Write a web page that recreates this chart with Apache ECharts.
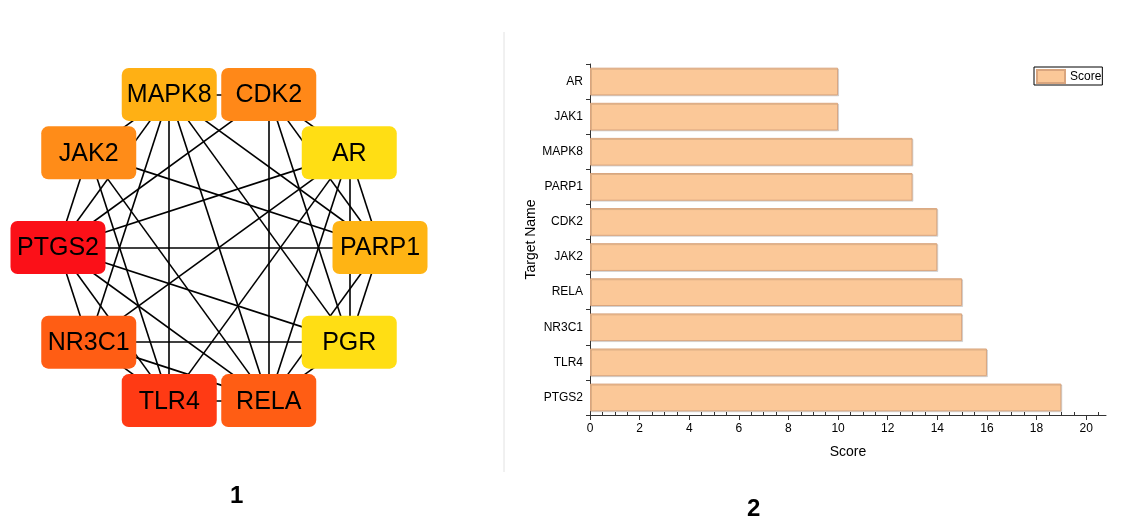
<!DOCTYPE html>
<html>
<head>
<meta charset="utf-8">
<script src="https://cdn.jsdelivr.net/npm/echarts@6/dist/echarts.min.js"></script>
<style>
  html, body { margin: 0; padding: 0; background: #fff; }
  #main { width: 1129px; height: 521px; }
</style>
</head>
<body>
<div id="main"></div>
<script>
// ---- Panel 1: target interaction network ----
// Nodes in ring order, clockwise from the 3 o'clock position
const ringNodes = ['PARP1', 'PGR', 'RELA', 'TLR4', 'NR3C1', 'PTGS2', 'JAK2', 'MAPK8', 'CDK2', 'AR'];
const nodeColors = ['#ffb414', '#ffde14', '#ff5d14', '#ff3a14', '#ff5d14', '#fb1018', '#ff8c18', '#ffb014', '#ff8818', '#ffde14'];
const interactions = [
  ['MAPK8', 'CDK2'], ['MAPK8', 'JAK2'], ['MAPK8', 'PTGS2'], ['MAPK8', 'NR3C1'],
  ['MAPK8', 'TLR4'], ['MAPK8', 'RELA'], ['MAPK8', 'PGR'], ['MAPK8', 'PARP1'],
  ['CDK2', 'PTGS2'], ['CDK2', 'RELA'], ['CDK2', 'PGR'], ['CDK2', 'PARP1'], ['CDK2', 'AR'],
  ['AR', 'PTGS2'], ['AR', 'NR3C1'], ['AR', 'TLR4'], ['AR', 'RELA'], ['AR', 'PGR'], ['AR', 'PARP1'],
  ['JAK2', 'PTGS2'], ['JAK2', 'TLR4'], ['JAK2', 'RELA'], ['JAK2', 'PARP1'],
  ['PTGS2', 'PARP1'], ['PTGS2', 'PGR'], ['PTGS2', 'NR3C1'], ['PTGS2', 'TLR4'], ['PTGS2', 'RELA'],
  ['NR3C1', 'PGR'], ['NR3C1', 'RELA'], ['NR3C1', 'TLR4'],
  ['TLR4', 'RELA'], ['PARP1', 'PGR'], ['PARP1', 'RELA'], ['PGR', 'RELA']
];

// ---- Panel 2: score bar chart ----
const targetNames = ['AR', 'JAK1', 'MAPK8', 'PARP1', 'CDK2', 'JAK2', 'RELA', 'NR3C1', 'TLR4', 'PTGS2'];
const scores = [10, 10, 13, 13, 14, 14, 15, 15, 16, 19];
const scoreTicks = [0, 2, 4, 6, 8, 10, 12, 14, 16, 18, 20];
const scoreMinorTicks = [];
for (let v = 0.5; v <= 20.5; v += 0.5) {
  if (v % 2 !== 0) scoreMinorTicks.push(v);
}

const FONT = '"Liberation Sans", Arial, Helvetica, sans-serif';
const chart = echarts.init(document.getElementById('main'), null, { renderer: 'canvas' });

const option = {
  backgroundColor: '#ffffff',
  animation: false,
  textStyle: { fontFamily: FONT },
  polar: { center: [219, 247.5], radius: 161 },
  angleAxis: { type: 'value', min: 0, max: 360, startAngle: 0, clockwise: true, show: false },
  radiusAxis: { type: 'value', min: 0, max: 1, show: false },
  grid: { left: 590, top: 64, width: 516, height: 351 },
  legend: {
    data: ['Score'],
    left: 1034, top: 67,
    padding: [2, 1, 1, 2],
    icon: 'rect',
    itemWidth: 28, itemHeight: 13,
    borderColor: '#000', borderWidth: 1, borderRadius: 0,
    textStyle: { fontSize: 12, color: '#000', fontFamily: FONT },
    selectedMode: false
  },
  xAxis: [
    {
      type: 'value', gridIndex: 0, min: 0, max: 20.8, interval: 2, position: 'bottom',
      name: 'Score', nameLocation: 'middle', nameGap: 30,
      nameTextStyle: { fontSize: 14, color: '#000', fontFamily: FONT },
      axisLine: { show: true, lineStyle: { color: '#333', width: 1 } },
      axisTick: { show: true, customValues: scoreTicks, length: 5, lineStyle: { color: '#333' } },
      axisLabel: { customValues: scoreTicks, fontSize: 12, color: '#000', margin: 8, fontFamily: FONT },
      splitLine: { show: false }
    },
    {
      type: 'value', gridIndex: 0, min: 0, max: 20.8, interval: 0.5, position: 'bottom',
      axisLine: { show: false },
      axisTick: { show: true, inside: true, customValues: scoreMinorTicks, length: 3, lineStyle: { color: '#333' } },
      axisLabel: { show: false },
      splitLine: { show: false }
    }
  ],
  yAxis: {
    type: 'category', gridIndex: 0, data: targetNames, inverse: true,
    name: 'Target Name', nameLocation: 'middle', nameGap: 49, nameRotate: 90,
    nameTextStyle: { fontSize: 14, color: '#000', fontFamily: FONT },
    axisLine: { show: true, lineStyle: { color: '#333', width: 1 } },
    axisTick: { show: true, length: 4, lineStyle: { color: '#333' } },
    axisLabel: { fontSize: 12, color: '#000', margin: 7, fontFamily: FONT },
    splitLine: { show: false }
  },
  series: [
    {
      type: 'graph',
      coordinateSystem: 'polar',
      polarIndex: 0,
      layout: 'none',
      silent: true,
      symbol: 'path://M7,0H88A7,7,0,0,1,95,7V46A7,7,0,0,1,88,53H7A7,7,0,0,1,0,46V7A7,7,0,0,1,7,0Z',
      symbolSize: [95, 53],
      data: ringNodes.map((n, i) => ({
        name: n,
        value: [1, i * 360 / ringNodes.length],
        itemStyle: { color: nodeColors[i] }
      })),
      links: interactions.map(([s, t]) => ({ source: s, target: t })),
      lineStyle: { color: '#000', width: 1.6, opacity: 1, curveness: 0 },
      label: { show: true, position: 'inside', color: '#000', fontSize: 25, fontFamily: FONT, offset: [0, 1] },
      emphasis: { disabled: true }
    },
    {
      name: 'Score',
      type: 'bar',
      xAxisIndex: 0, yAxisIndex: 0,
      data: scores,
      barCategoryGap: '21%',
      itemStyle: {
        color: '#fbc898',
        borderColor: '#d9a57e',
        borderWidth: 1,
        shadowColor: 'rgba(0,0,0,0.12)',
        shadowOffsetX: 1,
        shadowOffsetY: 1,
        shadowBlur: 0
      },
      emphasis: { disabled: true }
    }
  ],
  graphic: [
    {
      type: 'line',
      shape: { x1: 504, y1: 32, x2: 504, y2: 472 },
      style: { stroke: '#e2e2e2', lineWidth: 1 }
    },
    {
      type: 'text', left: 230, top: 484,
      style: { text: '1', font: 'bold 24px ' + FONT, fill: '#000' }
    },
    {
      type: 'text', left: 747, top: 497,
      style: { text: '2', font: 'bold 24px ' + FONT, fill: '#000' }
    }
  ]
};

chart.setOption(option);
</script>
</body>
</html>
